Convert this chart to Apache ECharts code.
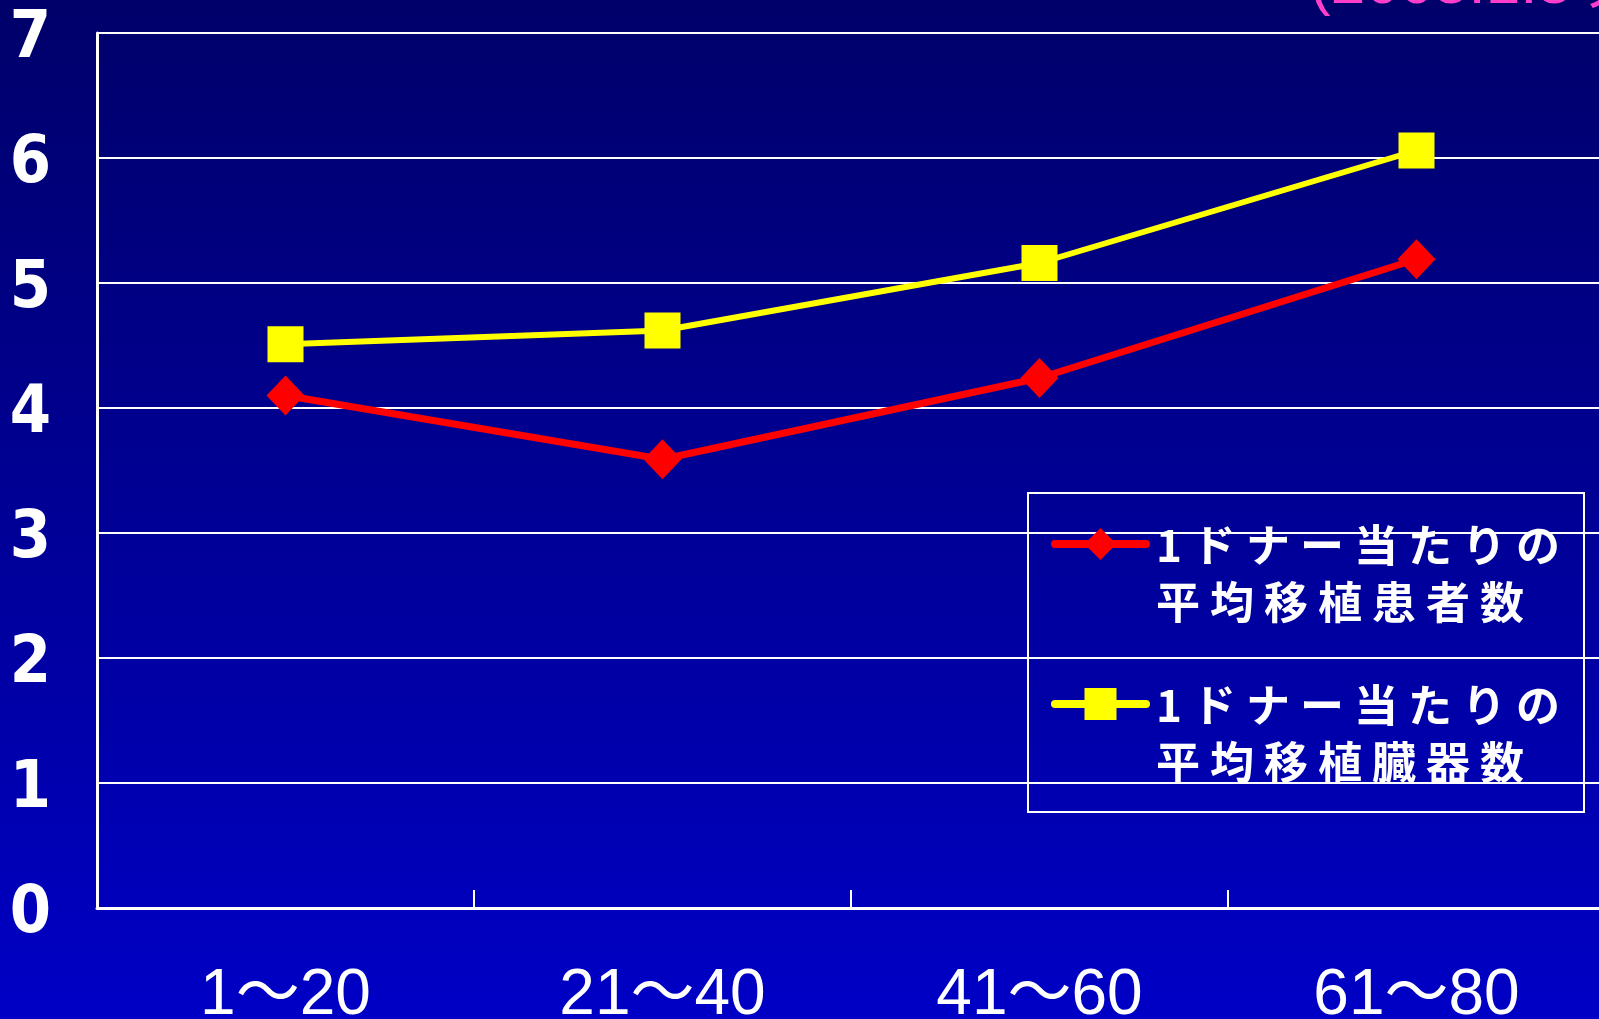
<!DOCTYPE html>
<html>
<head>
<meta charset="utf-8">
<script src="https://cdn.jsdelivr.net/npm/echarts@6/dist/echarts.min.js"></script>
<style>
  html, body { margin: 0; padding: 0; overflow: hidden; }
  #chart {
    width: 1599px; height: 1019px;
    background: linear-gradient(to bottom, #00006a 0%, #00009a 55%, #0000c6 100%);
  }
</style>
</head>
<body>
<div id="chart"></div>
<script>
// Donor-count ranges on the x axis
const categories = ['1～20', '21～40', '41～60', '61～80'];
// Average number of transplant recipients per donor
const patientsPerDonor = [4.10, 3.59, 4.24, 5.19];
// Average number of transplanted organs per donor
const organsPerDonor = [4.51, 4.62, 5.16, 6.06];
const seriesNames = ['1ドナー当たりの\n平均移植患者数', '1ドナー当たりの\n平均移植臓器数'];
const dateNote = '(2005.1.5現在)';

// Legend labels: widely spaced characters; the first line sits level with the icon.
function spacedLegendLabel(name) {
  const lines = name.split('\n');
  return lines.map(function (line, i) {
    const style = i === 0 ? 'first' : 'rest';
    return Array.from(line).map(function (ch) {
      return '{' + style + '|' + ch + '}';
    }).join('');
  }).join('\n');
}

const legendFont = {
  color: '#ffffff',
  fontFamily: 'Noto Sans CJK JP, sans-serif',
  fontWeight: 'bold',
  fontSize: 44
};

const yLabelFont = {
  color: '#ffffff',
  fontFamily: 'Liberation Sans Narrow, DejaVu Sans Condensed, Liberation Sans, Arial, sans-serif',
  fontWeight: 'bold',
  fontSize: 66
};

const chart = echarts.init(document.getElementById('chart'), null, { renderer: 'canvas' });

chart.setOption({
  backgroundColor: 'transparent',
  animation: false,
  grid: { left: 97, right: -6, top: 33, bottom: 111, containLabel: false, outerBoundsMode: 'none' },
  xAxis: {
    type: 'category',
    data: categories,
    boundaryGap: true,
    axisLine: { show: true, lineStyle: { color: '#ffffff', width: 3 } },
    axisTick: { show: true, inside: true, length: 18, lineStyle: { color: '#ffffff', width: 2 } },
    axisLabel: {
      color: '#ffffff',
      fontFamily: 'Liberation Sans, Arial, Noto Sans CJK JP, sans-serif',
      fontSize: 64,
      margin: 56
    },
    splitLine: { show: false }
  },
  yAxis: {
    type: 'value',
    min: 0, max: 7, interval: 1,
    axisLine: { show: true, lineStyle: { color: '#ffffff', width: 3 } },
    axisTick: { show: false },
    axisLabel: Object.assign({}, yLabelFont, {
      margin: 46,
      formatter: function (v) { return '{v|' + v + '}'; },
      rich: { v: Object.assign({}, yLabelFont, { lineHeight: 66, padding: [14, 0, 0, 0] }) }
    }),
    splitLine: { show: true, lineStyle: { color: '#ffffff', width: 2 } }
  },
  legend: {
    orient: 'vertical',
    left: 1051,
    top: 463,
    padding: 0,
    itemGap: -1,
    itemWidth: 91,
    itemHeight: 40,
    lineStyle: { width: 8, cap: 'round' },
    formatter: spacedLegendLabel,
    textStyle: Object.assign({}, legendFont, {
      rich: {
        first: Object.assign({}, legendFont, { lineHeight: 116, padding: [60, 5, 0, 5] }),
        rest: Object.assign({}, legendFont, { lineHeight: 58, padding: [0, 5, 0, 5] })
      }
    }),
    data: seriesNames
  },
  graphic: [
    {
      type: 'rect',
      shape: { x: 1028, y: 493, width: 556, height: 319 },
      style: { fill: 'none', stroke: '#ffffff', lineWidth: 2 },
      z: 5
    },
    {
      type: 'text',
      x: 1310,
      y: -14,
      style: {
        text: dateNote,
        fill: '#ff3fcc',
        font: '62px "Liberation Sans", Arial, "Noto Sans CJK JP", sans-serif',
        verticalAlign: 'middle',
        align: 'left'
      },
      z: 5
    }
  ],
  series: [
    {
      name: seriesNames[0],
      type: 'line',
      data: patientsPerDonor,
      symbol: 'diamond',
      symbolSize: [38, 40],
      itemStyle: { color: '#ff0000' },
      lineStyle: { color: '#ff0000', width: 7, cap: 'round' },
      z: 3
    },
    {
      name: seriesNames[1],
      type: 'line',
      data: organsPerDonor,
      symbol: 'rect',
      symbolSize: 36,
      itemStyle: { color: '#ffff00' },
      lineStyle: { color: '#ffff00', width: 6, cap: 'round' },
      z: 4
    }
  ]
});
</script>
</body>
</html>
